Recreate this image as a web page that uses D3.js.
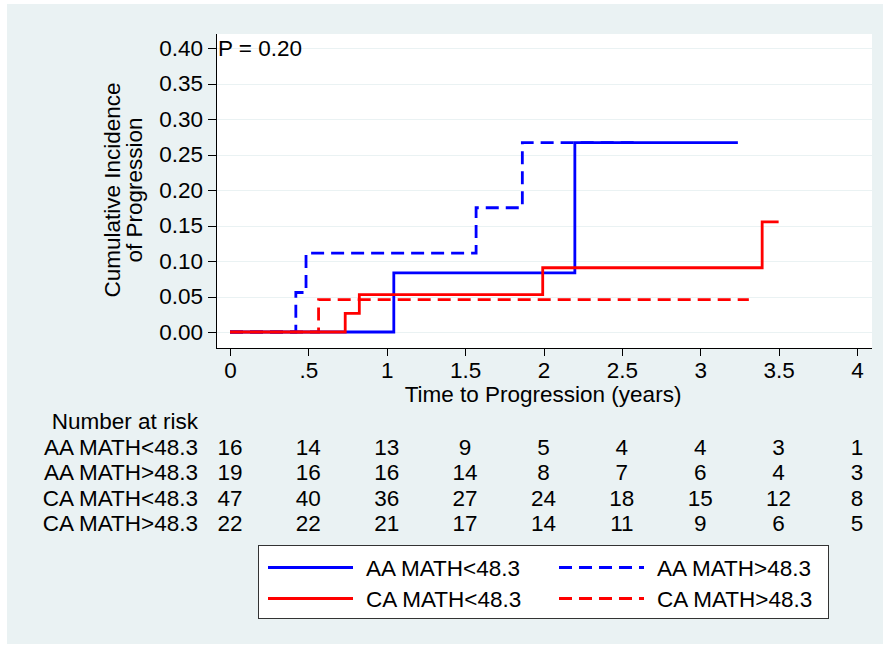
<!DOCTYPE html>
<html>
<head>
	<meta charset="utf-8">
	<title>Cumulative incidence of progression</title>
	<script src="https://d3js.org/d3.v7.min.js"></script>
	<style>
		body { margin: 0; background: #ffffff; }
		text { font-family: "Liberation Sans", Arial, Helvetica, sans-serif; font-size: 22.5px; fill: #000; }
		.grid line { stroke: #eaf2f3; stroke-width: 1.6px; shape-rendering: crispEdges; }
		.axis path, .axis line { stroke: #000; stroke-width: 1px; shape-rendering: crispEdges; }
	</style>
</head>
<body>
<svg id="chart"></svg>
<script>
// tick values and labels
var xTicks = [0, 0.5, 1, 1.5, 2, 2.5, 3, 3.5, 4];
var xTickLabels = ['0', '.5', '1', '1.5', '2', '2.5', '3', '3.5', '4'];
var yTicks = [0, 0.05, 0.10, 0.15, 0.20, 0.25, 0.30, 0.35, 0.40];

// group names
var groups = ['AA MATH<48.3', 'AA MATH>48.3', 'CA MATH<48.3', 'CA MATH>48.3'];

// step curves: jump times, levels after each jump, last follow-up time
var aaLowTimes = [0, 1.045, 2.2];
var aaLowValues = [0, 0.0833, 0.2667];
var aaLowEnd = 3.24;

var aaHighTimes = [0, 0.42, 0.485, 1.57, 1.865];
var aaHighValues = [0, 0.0556, 0.1111, 0.175, 0.2667];
var aaHighEnd = 2.6;

var caLowTimes = [0, 0.735, 0.825, 1.995, 3.395];
var caLowValues = [0, 0.0263, 0.0526, 0.0905, 0.155];
var caLowEnd = 3.5;

var caHighTimes = [0, 0.565];
var caHighValues = [0, 0.0455];
var caHighEnd = 3.31;

// number at risk at each x tick
var riskAaLow = [16, 14, 13, 9, 5, 4, 4, 3, 1];
var riskAaHigh = [19, 16, 16, 14, 8, 7, 6, 4, 3];
var riskCaLow = [47, 40, 36, 27, 24, 18, 15, 12, 8];
var riskCaHigh = [22, 22, 21, 17, 14, 11, 9, 6, 5];

(function () {
	var W = 884, H = 645;
	var svg = d3.select('#chart').attr('width', W).attr('height', H);

	// outer panel
	svg.append('rect').attr('x', 7).attr('y', 4).attr('width', 876).attr('height', 640).attr('fill', '#eaf2f3');

	var left = 216, right = 872, top = 34, bottom = 348;
	var x = d3.scaleLinear([0, 4], [230, 857]);
	var y = d3.scaleLinear([0, 0.40], [332, 48]);

	// plot area
	svg.append('rect').attr('x', left).attr('y', top).attr('width', right - left).attr('height', bottom - top).attr('fill', '#fff');

	// grid
	svg.append('g').attr('class', 'grid')
		.selectAll('line').data(yTicks).enter().append('line')
			.attr('x1', left + 1).attr('x2', right)
			.attr('y1', function(d){ return Math.round(y(d)) + 0.5; })
			.attr('y2', function(d){ return Math.round(y(d)) + 0.5; });

	// y axis
	var yAxis = svg.append('g').attr('class', 'axis')
		.attr('transform', 'translate(' + left + ',0)')
		.call(d3.axisLeft(y).tickValues(yTicks).tickSize(8).tickPadding(5).tickFormat(d3.format('.2f')));
	yAxis.select('.domain').attr('d', 'M0.5,' + top + 'V' + bottom);
	yAxis.selectAll('text').style('font-size', '22.5px').style('font-family', null);

	// x axis
	var xAxis = svg.append('g').attr('class', 'axis')
		.attr('transform', 'translate(0,' + bottom + ')')
		.call(d3.axisBottom(x).tickValues(xTicks).tickSize(8).tickPadding(6)
			.tickFormat(function(d, i){ return xTickLabels[i]; }));
	xAxis.select('.domain').attr('d', 'M' + left + ',0.5H' + right);
	xAxis.selectAll('text').style('font-size', '22.5px').style('font-family', null);

	// axis titles
	svg.append('text').attr('text-anchor', 'middle').attr('x', 543).attr('y', 402)
		.text('Time to Progression (years)');
	var yt = svg.append('text').attr('text-anchor', 'middle').attr('transform', 'translate(120,190) rotate(-90)');
	yt.append('tspan').attr('x', 0).attr('y', 0).text('Cumulative Incidence');
	yt.append('tspan').attr('x', 0).attr('y', 22).text('of Progression');

	svg.append('text').attr('x', 218).attr('y', 56).text('P = 0.20');

	// curves
	function steps(times, values, end) {
		var pts = times.map(function(t, i){ return [t, values[i]]; });
		pts.push([end, values[values.length - 1]]);
		return pts;
	}
	var line = d3.line().x(function(d){ return x(d[0]); }).y(function(d){ return y(d[1]); }).curve(d3.curveStepAfter);
	var curves = [
		{ pts: steps(aaHighTimes, aaHighValues, aaHighEnd), color: '#0000ff', dash: '13,7' },
		{ pts: steps(caHighTimes, caHighValues, caHighEnd), color: '#ff0000', dash: '13,7' },
		{ pts: steps(aaLowTimes, aaLowValues, aaLowEnd), color: '#0000ff', dash: null },
		{ pts: steps(caLowTimes, caLowValues, caLowEnd), color: '#ff0000', dash: null }
	];
	svg.append('g').selectAll('path').data(curves).enter().append('path')
		.attr('d', function(d){ return line(d.pts); })
		.attr('fill', 'none')
		.attr('stroke', function(d){ return d.color; })
		.attr('stroke-width', 2.8)
		.attr('stroke-dasharray', function(d){ return d.dash; });

	// number at risk table
	svg.append('text').attr('text-anchor', 'end').attr('x', 198).attr('y', 429).text('Number at risk');
	var risk = [riskAaLow, riskAaHigh, riskCaLow, riskCaHigh];
	risk.forEach(function(row, r){
		var yy = 455 + r * 25.3;
		svg.append('text').attr('text-anchor', 'end').attr('x', 198).attr('y', yy).text(groups[r]);
		svg.append('g').selectAll('text').data(row).enter().append('text')
			.attr('text-anchor', 'middle')
			.attr('x', function(d, i){ return x(xTicks[i]); })
			.attr('y', yy)
			.text(function(d){ return d; });
	});

	// legend
	svg.append('rect').attr('x', 258.5).attr('y', 545.5).attr('width', 570).attr('height', 73)
		.attr('fill', '#fff').attr('stroke', '#333').attr('stroke-width', 1);
	var legendItems = [
		{ name: groups[0], color: '#0000ff', dash: null, lx: 268, ly: 567.5 },
		{ name: groups[1], color: '#0000ff', dash: '13,7', lx: 559, ly: 567.5 },
		{ name: groups[2], color: '#ff0000', dash: null, lx: 268, ly: 598.5 },
		{ name: groups[3], color: '#ff0000', dash: '13,7', lx: 559, ly: 598.5 }
	];
	var lg = svg.append('g').selectAll('g').data(legendItems).enter().append('g');
	lg.append('line')
		.attr('x1', function(d){ return d.lx; }).attr('x2', function(d){ return d.lx + 85; })
		.attr('y1', function(d){ return d.ly; }).attr('y2', function(d){ return d.ly; })
		.attr('stroke', function(d){ return d.color; }).attr('stroke-width', 2.8)
		.attr('stroke-dasharray', function(d){ return d.dash; });
	lg.append('text')
		.attr('x', function(d){ return d.lx + 98; })
		.attr('y', function(d){ return d.ly + 8; })
		.text(function(d){ return d.name; });
}());
</script>
</body>
</html>
